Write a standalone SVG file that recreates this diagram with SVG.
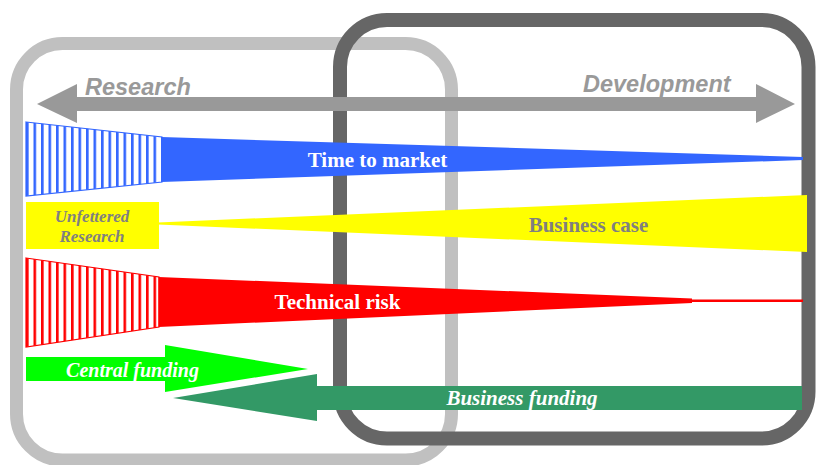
<svg xmlns="http://www.w3.org/2000/svg" width="816" height="465" viewBox="0 0 816 465">
<style>
.frame{fill:none}
.hd{font-family:"Liberation Sans",Arial,sans-serif;font-weight:bold;font-style:italic;font-size:23.5px;fill:#999999}
.lbl{font-family:"Liberation Serif","Times New Roman",serif;font-weight:bold;font-size:21px;text-anchor:middle}
.it{font-style:italic}
</style>
<defs>
<pattern id="hb" patternUnits="userSpaceOnUse" x="26" y="0" width="7.5" height="10">
<rect width="7.5" height="10" fill="#ffffff"/>
<rect width="2.6" height="10" fill="#3366FF"/>
</pattern>
<pattern id="hr" patternUnits="userSpaceOnUse" x="26" y="0" width="7.5" height="10">
<rect width="7.5" height="10" fill="#ffffff"/>
<rect width="2.6" height="10" fill="#FF0000"/>
</pattern>
</defs>
<rect width="816" height="465" fill="#ffffff"/>
<g id="research-frame"><rect class="frame" x="16.5" y="43.5" width="435" height="416.5" rx="46" ry="46" stroke="#C0C0C0" stroke-width="13"/></g>
<g id="development-frame"><rect class="frame" x="340" y="20" width="468.5" height="418.5" rx="47" ry="47" stroke="#666666" stroke-width="14"/></g>
<g id="connectors">
<polygon id="rd-arrow" points="37,104 77,84 77,97 756,97 756,84 795,104 756,123 756,111 77,111 77,123" fill="#999999"/>
</g>
<g id="research-label"><text class="hd" x="85" y="95">Research</text></g>
<g id="development-label"><text class="hd" x="583" y="92">Development</text></g>
<g id="time-to-market">
<polygon points="26,122 162,137 162,182 26,196" fill="url(#hb)" stroke="#3366FF" stroke-width="1.2"/>
<polygon points="161.5,137 803,157 803,160 161.5,182" fill="#3366FF"/>
<text class="lbl" x="377.5" y="167" fill="#ffffff">Time to market</text>
</g>
<g id="business-case">
<rect x="26" y="202" width="133" height="47" fill="#FFFF00"/>
<polygon points="158,222.5 807,195 807,252 158,224.5" fill="#FFFF00"/>
<text class="lbl it" x="92" y="222" font-size="17" fill="#808080" style="font-size:17px">Unfettered</text>
<text class="lbl it" x="92" y="242" fill="#808080" style="font-size:17px">Research</text>
<text class="lbl" x="588.5" y="232" fill="#808080">Business case</text>
</g>
<g id="technical-risk">
<polygon points="26,258 159,277 159,327 26,347" fill="url(#hr)" stroke="#FF0000" stroke-width="1.2"/>
<polygon points="158.5,277 692,298.5 692,299.5 803,299.5 803,302 692,302 692,303 158.5,327" fill="#FF0000"/>
<text class="lbl" x="337.5" y="309" fill="#ffffff">Technical risk</text>
</g>
<g id="central-funding">
<polygon points="26,357 165,357 165,345 308,369 165,392 165,381 26,381" fill="#00FF00"/>
<text class="lbl it" x="132.5" y="377" fill="#ffffff" style="font-size:20px">Central funding</text>
</g>
<g id="business-funding">
<polygon points="802,386 317,386 317,374 173,398 317,421 317,410 802,410" fill="#339966"/>
<text class="lbl it" x="522" y="405" fill="#ffffff">Business funding</text>
</g>
</svg>
